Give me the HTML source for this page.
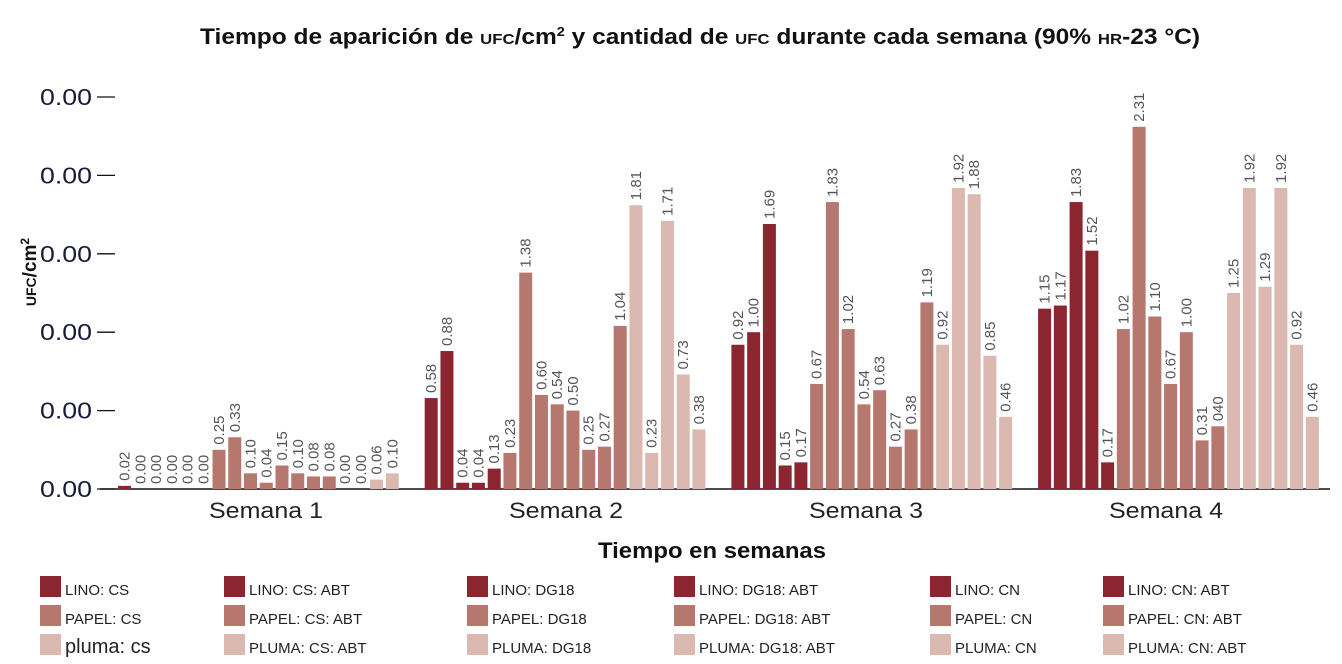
<!DOCTYPE html>
<html><head><meta charset="utf-8">
<style>
body{margin:0;background:#fff;font-family:"Liberation Sans",sans-serif;}
svg{display:block}
</style></head>
<body>
<svg id="chart" width="1342" height="664">
<text x="200" y="44" textLength="1000" lengthAdjust="spacingAndGlyphs" font-size="22" font-weight="bold" fill="#111">Tiempo de aparición de <tspan font-size="15">UFC</tspan>/cm<tspan font-size="13" dy="-8">2</tspan><tspan dy="8"> y cantidad de </tspan><tspan font-size="15">UFC</tspan> durante cada semana (90% <tspan font-size="15">HR</tspan>-23 °C)</text>
<text transform="translate(36,272) rotate(-90)" text-anchor="middle" font-size="19" font-weight="bold" fill="#111"><tspan font-size="14">UFC</tspan>/cm<tspan font-size="12" dy="-7">2</tspan></text>
<text x="598" y="558" textLength="228" lengthAdjust="spacingAndGlyphs" font-size="22" font-weight="bold" fill="#111">Tiempo en semanas</text>
<g id="axes"></g><g id="bars"></g><g id="legend"></g>
</svg>
<script>
const weeks=["Semana 1","Semana 2","Semana 3","Semana 4"];
const w1=[0.02,0,0,0,0,0,0.25,0.33,0.10,0.04,0.15,0.10,0.08,0.08,0,0,0.06,0.10];
const w2=[0.58,0.88,0.04,0.04,0.13,0.23,1.38,0.60,0.54,0.50,0.25,0.27,1.04,1.81,0.23,1.71,0.73,0.38];
const w3=[0.92,1.00,1.69,0.15,0.17,0.67,1.83,1.02,0.54,0.63,0.27,0.38,1.19,0.92,1.92,1.88,0.85,0.46];
const w4=[1.15,1.17,1.83,1.52,0.17,1.02,2.31,1.10,0.67,1.00,0.31,0.40,1.25,1.92,1.29,1.92,0.92,0.46];
const c1=[0,0,0,0,0,0,1,1,1,1,1,1,1,1,2,2,2,2];
const c2=[0,0,0,0,0,1,1,1,1,1,1,1,1,2,2,2,2,2];
const c3=[0,0,0,0,0,1,1,1,1,1,1,1,1,2,2,2,2,2];
const c4=[0,0,0,0,0,1,1,1,1,1,1,1,2,2,2,2,2,2];
const yTicks=[0,0.5,1,1.5,2,2.5];
const yTickLabels=["0.00","0.00","0.00","0.00","0.00","0.00"];
const legendLabels=[["LINO: CS","LINO: CS: ABT","LINO: DG18","LINO: DG18: ABT","LINO: CN","LINO: CN: ABT"],["PAPEL: CS","PAPEL: CS: ABT","PAPEL: DG18","PAPEL: DG18: ABT","PAPEL: CN","PAPEL: CN: ABT"],["pluma: cs","PLUMA: CS: ABT","PLUMA: DG18","PLUMA: DG18: ABT","PLUMA: CN","PLUMA: CN: ABT"]];
const palette=["#8b2630","#b5776e","#dbb9b1"];
const values=[w1,w2,w3,w4], cats=[c1,c2,c3,c4];
const NS="http://www.w3.org/2000/svg";
function el(t,a,p){const e=document.createElementNS(NS,t);for(const k in a)e.setAttribute(k,a[k]);p.appendChild(e);return e;}
const y0=489, pxPer=156.8;
const y=v=>y0-v*pxPer;
const groupStart=i=>118+i*306.7;
const labelCenter=i=>266+i*300;
const pitch=15.75,bw=13;
const axes=document.getElementById('axes'),bars=document.getElementById('bars'),leg=document.getElementById('legend');
const base=el('line',{x1:100,x2:1330,y1:y0,y2:y0,stroke:'#111','stroke-width':1.5},axes);


yTicks.forEach((t,i)=>{
 const l=el('line',{x1:97,x2:115,y1:y(t),y2:y(t),stroke:'#111','stroke-width':1.3},axes);
 
 
 const tx=el('text',{x:40,y:y(t)+8,textLength:52,lengthAdjust:'spacingAndGlyphs','font-size':23,fill:'#1a1a3a'},axes);
 tx.textContent=yTickLabels[i];
 
 
});
weeks.forEach((w,g)=>{
 const gx=groupStart(g);
 const lt=el('text',{x:labelCenter(g)-57,y:518,textLength:114,lengthAdjust:'spacingAndGlyphs','font-size':22,fill:'#222'},axes);
 lt.textContent=w;
 
 
 values[g].forEach((v,i)=>{
  const x=gx+i*pitch;
  if(v>0){
   const r=el('rect',{x:x,y:y(v),width:bw,height:y0-y(v),fill:palette[cats[g][i]]},bars);
   
   
  }
  const t=el('text',{transform:`translate(${x+bw/2+5},${y(v)-5}) rotate(-90)`,'font-size':15,fill:'#555'},bars);
  t.textContent=(g===3&&i===11)?"040":v.toFixed(2);
  
  
 });
});
const colX=[40,224,467,674,930,1103], rowY=[576,605,634];
legendLabels.forEach((row,r)=>row.forEach((lab,c)=>{
 const g=el('g',{},leg);
 
 
 el('rect',{x:colX[c],y:rowY[r],width:21,height:21,fill:palette[r]},g);
 const t=el('text',{x:colX[c]+25,y:rowY[r]+19,'font-size':(r===2&&c===0)?20:15,fill:'#222'},g);
 t.textContent=lab;
}));
</script>
</body></html>
